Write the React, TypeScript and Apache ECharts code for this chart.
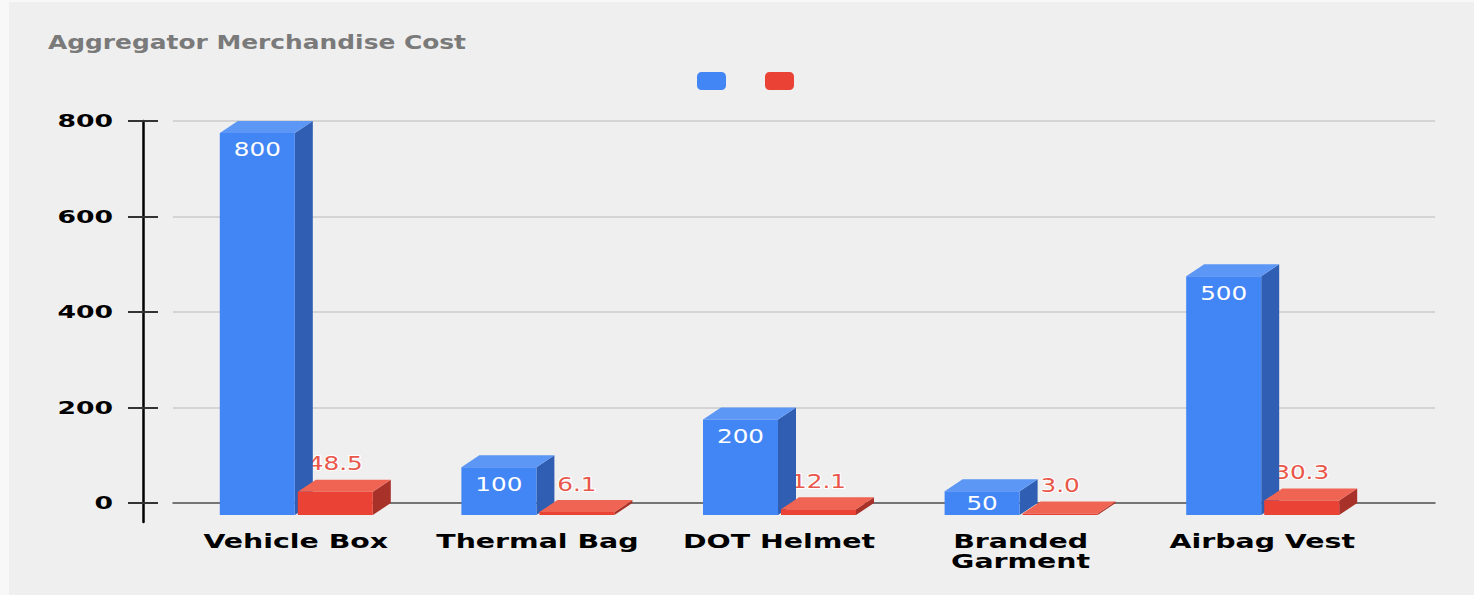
import React, { useEffect, useRef } from 'react';
import * as echarts from 'echarts';

const titleText = 'Aggregator Merchandise Cost';
const categories = ['Vehicle Box', 'Thermal Bag', 'DOT Helmet', 'Branded Garment', 'Airbag Vest'];
const merchandiseCost = [800, 100, 200, 50, 500];
const amortizedCost = [48.5, 6.1, 12.1, 3.0, 30.3];
const yTicks = [0, 200, 400, 600, 800];
const seriesNames = ['Merchandise Cost', 'Amortized Cost'];

const BLUE = { front: '#4285f4', top: '#5c97f6', side: '#2f5eb2' };
const RED = { front: '#ea4335', top: '#ef6452', side: '#a8312a' };
const DX = 18;
const DY = 12;
const BAR_W = 75;
const FONT = '"DejaVu Sans", Verdana, sans-serif';

function box(x1: number, yTopBack: number, y0Back: number, colors: any) {
  const x2 = x1 + BAR_W;
  const ft = yTopBack + DY;
  const fb = y0Back + DY;
  return [
    { type: 'polygon', shape: { points: [[x2, ft], [x2 + DX, yTopBack], [x2 + DX, y0Back], [x2, fb]] }, style: { fill: colors.side } },
    { type: 'polygon', shape: { points: [[x1, ft], [x1 + DX, yTopBack], [x2 + DX, yTopBack], [x2, ft]] }, style: { fill: colors.top } },
    { type: 'rect', shape: { x: x1, y: ft, width: BAR_W, height: Math.max(fb - ft, 0) }, style: { fill: colors.front } },
  ];
}

export default function App() {
  const ref = useRef<HTMLDivElement>(null);
  useEffect(() => {
    if (!ref.current) return;
    const chart = echarts.init(ref.current, undefined, { renderer: 'svg' });

    const blueBars = (params: any, api: any) => {
      const i = api.value(0);
      const v = api.value(1);
      const [cx, yt] = api.coord([i, v]);
      const [, y0] = api.coord([i, 0]);
      const x1 = cx - 76;
      const children: any[] = box(x1, yt, y0, BLUE);
      const ft = yt + DY;
      const fb = y0 + DY;
      children.push({
        type: 'text',
        x: x1 + BAR_W / 2,
        y: Math.min(ft + 17, (ft + fb) / 2),
        scaleX: 1.3,
        style: { text: String(v), fill: '#ffffff', fontSize: 19, fontFamily: FONT, align: 'center', verticalAlign: 'middle' },
      });
      return { type: 'group', children };
    };

    const redBars = (params: any, api: any) => {
      const i = api.value(0);
      const v = api.value(1);
      const [cx, yt] = api.coord([i, v]);
      const [, y0] = api.coord([i, 0]);
      return { type: 'group', children: box(cx + 2, yt, y0, RED) };
    };

    const redLabels = (params: any, api: any) => {
      const i = api.value(0);
      const v = api.value(1);
      const [cx, yt] = api.coord([i, v]);
      return {
        type: 'text',
        x: cx + 2 + BAR_W / 2,
        y: yt - 16,
        scaleX: 1.3,
        style: {
          text: Number(v).toFixed(1), fill: '#e8574a', stroke: '#ffffff', lineWidth: 2,
          fontSize: 19, fontFamily: FONT, align: 'center', verticalAlign: 'middle',
        },
      };
    };

    const catLabels = (params: any, api: any) => {
      const i = api.value(0);
      const [cx, y0] = api.coord([i, 0]);
      const name = categories[i];
      const label = name.length > 12 ? name.replace(' ', '\n') : name;
      return {
        type: 'text',
        x: cx,
        y: y0 + 28.5,
        scaleX: 1.42,
        style: {
          text: label, fill: '#000000', fontSize: 20, fontWeight: 'bold', fontFamily: FONT,
          align: 'center', verticalAlign: 'top', lineHeight: 20,
        },
      };
    };

    const yLabels = (params: any, api: any) => {
      const v = api.value(1);
      const [, y] = api.coord([0, v]);
      return {
        type: 'text',
        x: params.coordSys.x - 62,
        y,
        scaleX: 1.48,
        style: {
          text: String(v), fill: '#000000', fontSize: 18, fontWeight: 'bold', fontFamily: FONT,
          align: 'right', verticalAlign: 'middle',
        },
      };
    };

    const tickAxis = (inside: boolean) => ({
      gridIndex: 0, type: 'value', min: 0, max: 800, interval: 200, position: 'left', offset: 32,
      axisLine: { show: false },
      axisTick: { show: true, inside, length: 15, lineStyle: { color: '#333333', width: 2 } },
      axisLabel: { show: false }, splitLine: { show: false },
    });

    chart.setOption({
      animation: false,
      backgroundColor: 'transparent',
      graphic: [
        {
          type: 'text', x: 48, y: 42, scaleX: 1.31,
          style: { text: titleText, fill: '#7a7a7a', fontSize: 19, fontWeight: 'bold', fontFamily: FONT, align: 'left', verticalAlign: 'middle' },
        },
      ],
      legend: {
        data: seriesNames, left: 697, top: 72, padding: 0, itemWidth: 29, itemHeight: 18, itemGap: 39,
        icon: 'roundRect', formatter: () => '', selectedMode: false,
      },
      grid: [
        { left: 175, right: 91, top: 121, bottom: 92 },
        { left: 173, right: 39, top: 121, bottom: 92 },
        { left: 143, width: 10, top: 121, bottom: 73 },
      ],
      xAxis: [
        { gridIndex: 0, type: 'category', data: categories, show: false },
        {
          gridIndex: 1, type: 'value', min: 0, max: 1,
          axisLine: { show: true, lineStyle: { color: '#555555', width: 1.5 } },
          axisTick: { show: false }, axisLabel: { show: false }, splitLine: { show: false },
        },
        { gridIndex: 2, type: 'value', min: 0, max: 1, show: false },
      ],
      yAxis: [
        tickAxis(false),
        tickAxis(true),
        {
          gridIndex: 1, type: 'value', min: 0, max: 800, interval: 200,
          axisLine: { show: false }, axisTick: { show: false }, axisLabel: { show: false },
          splitLine: { show: true, lineStyle: { color: '#cbcbcb', width: 1.5 } },
        },
        {
          gridIndex: 2, type: 'value', min: 0, max: 1, position: 'left',
          axisLine: { show: true, lineStyle: { color: '#000000', width: 2.5 } },
          axisTick: { show: false }, axisLabel: { show: false }, splitLine: { show: false },
        },
      ],
      series: [
        { type: 'custom', name: 'redLabels', silent: true, z: 2, renderItem: redLabels, data: amortizedCost.map((v, i) => [i, v]) },
        { type: 'custom', name: seriesNames[0], silent: true, z: 3, itemStyle: { color: BLUE.front }, renderItem: blueBars, data: merchandiseCost.map((v, i) => [i, v]) },
        { type: 'custom', name: seriesNames[1], silent: true, z: 4, itemStyle: { color: RED.front }, renderItem: redBars, data: amortizedCost.map((v, i) => [i, v]) },
        { type: 'custom', name: 'categoryLabels', silent: true, z: 5, renderItem: catLabels, data: categories.map((_, i) => [i, 0]) },
        { type: 'custom', name: 'valueLabels', silent: true, z: 5, renderItem: yLabels, data: yTicks.map((v) => [0, v]) },
      ],
    });
    return () => chart.dispose();
  }, []);

  return (
    <div style={{ position: 'absolute', left: 0, top: 0, width: 1474, height: 595, background: '#f8f8f8', overflow: 'hidden' }}>
      <div style={{ position: 'absolute', left: 9, top: 2, right: 0, bottom: 0, background: '#efefef' }} />
      <div ref={ref} style={{ position: 'absolute', left: 0, top: 0, width: 1474, height: 595 }} />
    </div>
  );
}
